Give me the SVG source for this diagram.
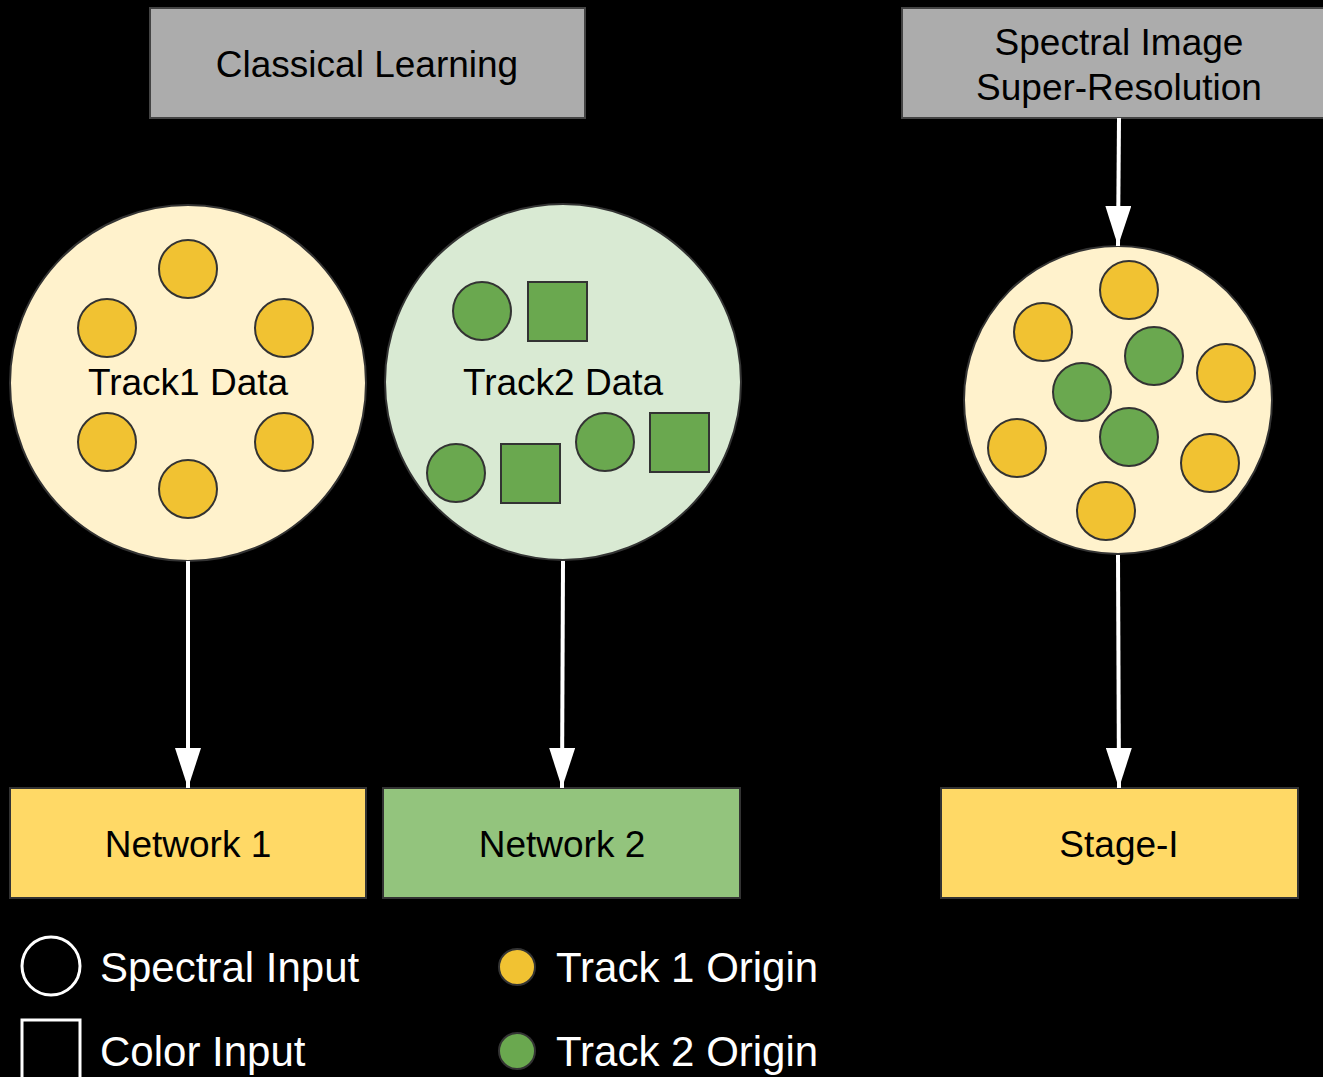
<svg xmlns="http://www.w3.org/2000/svg" width="1323" height="1077" viewBox="0 0 1323 1077">
<defs>
<style>
text{font-family:"Liberation Sans",Arial,sans-serif;}
.hdr{fill:#acacac;stroke:#444;stroke-width:2;}
.big{stroke:#333;stroke-width:2;}
.y{fill:#f1c232;stroke:#333;stroke-width:2;}
.g{fill:#6aa84f;stroke:#333;stroke-width:2;}
.lbl{font-size:37px;fill:#000;text-anchor:middle;}
.leg{font-size:42px;fill:#fff;}
.edge{stroke:#fff;stroke-width:4;fill:none;}
</style>
<marker id="ah" viewBox="0 0 40 26" refX="40" refY="13" markerWidth="40" markerHeight="26" markerUnits="userSpaceOnUse" orient="auto">
<path d="M0,0 L40,13 L0,26 Z" fill="#fff"/>
</marker>
</defs>
<rect width="1323" height="1077" fill="#000"/>
<g id="classical">
<rect class="hdr" x="150" y="8" width="435" height="110"/>
<text class="lbl" x="367" y="77">Classical Learning</text>
</g>
<g id="spectral-sr">
<rect class="hdr" x="902" y="8" width="434" height="110"/>
<text class="lbl" x="1119" y="55">Spectral Image</text>
<text class="lbl" x="1119" y="100">Super-Resolution</text>
</g>
<g id="track1">
<circle class="big" cx="188" cy="383" r="178" fill="#fff2cc"/>
<circle class="y" cx="188" cy="269" r="29"/>
<circle class="y" cx="107" cy="328" r="29"/>
<circle class="y" cx="284" cy="328" r="29"/>
<circle class="y" cx="107" cy="442" r="29"/>
<circle class="y" cx="284" cy="442" r="29"/>
<circle class="y" cx="188" cy="489" r="29"/>
<text class="lbl" x="188" y="395">Track1 Data</text>
</g>
<g id="track2">
<circle class="big" cx="563" cy="382" r="178" fill="#d9ead3"/>
<circle class="g" cx="482" cy="311" r="29"/>
<rect class="g" x="528" y="282" width="59" height="59"/>
<circle class="g" cx="456" cy="473" r="29"/>
<rect class="g" x="501" y="444" width="59" height="59"/>
<circle class="g" cx="605" cy="442" r="29"/>
<rect class="g" x="650" y="413" width="59" height="59"/>
<text class="lbl" x="563" y="395">Track2 Data</text>
</g>
<g id="mixed">
<circle class="big" cx="1118" cy="400" r="154" fill="#fff2cc"/>
<circle class="y" cx="1129" cy="290" r="29"/>
<circle class="y" cx="1043" cy="332" r="29"/>
<circle class="g" cx="1154" cy="356" r="29"/>
<circle class="y" cx="1226" cy="373" r="29"/>
<circle class="g" cx="1082" cy="392" r="29"/>
<circle class="g" cx="1129" cy="437" r="29"/>
<circle class="y" cx="1017" cy="448" r="29"/>
<circle class="y" cx="1210" cy="463" r="29"/>
<circle class="y" cx="1106" cy="511" r="29"/>
</g>
<g id="network1">
<rect class="big" x="10" y="788" width="356" height="110" fill="#ffd966"/>
<text class="lbl" x="188" y="857">Network 1</text>
</g>
<g id="network2">
<rect class="big" x="383" y="788" width="357" height="110" fill="#93c47d"/>
<text class="lbl" x="562" y="857">Network 2</text>
</g>
<g id="stage1">
<rect class="big" x="941" y="788" width="357" height="110" fill="#ffd966"/>
<text class="lbl" x="1119" y="857">Stage-I</text>
</g>
<g id="connectors">
<line class="edge" x1="188" y1="561" x2="188" y2="788" marker-end="url(#ah)"/>
<line class="edge" x1="563" y1="561" x2="562" y2="788" marker-end="url(#ah)"/>
<line class="edge" x1="1119" y1="118" x2="1118" y2="246" marker-end="url(#ah)"/>
<line class="edge" x1="1118" y1="555" x2="1119" y2="788" marker-end="url(#ah)"/>
</g>
<g id="legend">
<circle cx="51" cy="966" r="29" fill="none" stroke="#fff" stroke-width="3"/>
<text class="leg" x="100" y="982">Spectral Input</text>
<rect x="22" y="1020" width="58" height="60" fill="none" stroke="#fff" stroke-width="3"/>
<text class="leg" x="100" y="1066">Color Input</text>
<circle class="y" cx="517" cy="967" r="18"/>
<text class="leg" x="556" y="982">Track 1 Origin</text>
<circle class="g" cx="517" cy="1051" r="18"/>
<text class="leg" x="556" y="1066">Track 2 Origin</text>
</g>
</svg>
